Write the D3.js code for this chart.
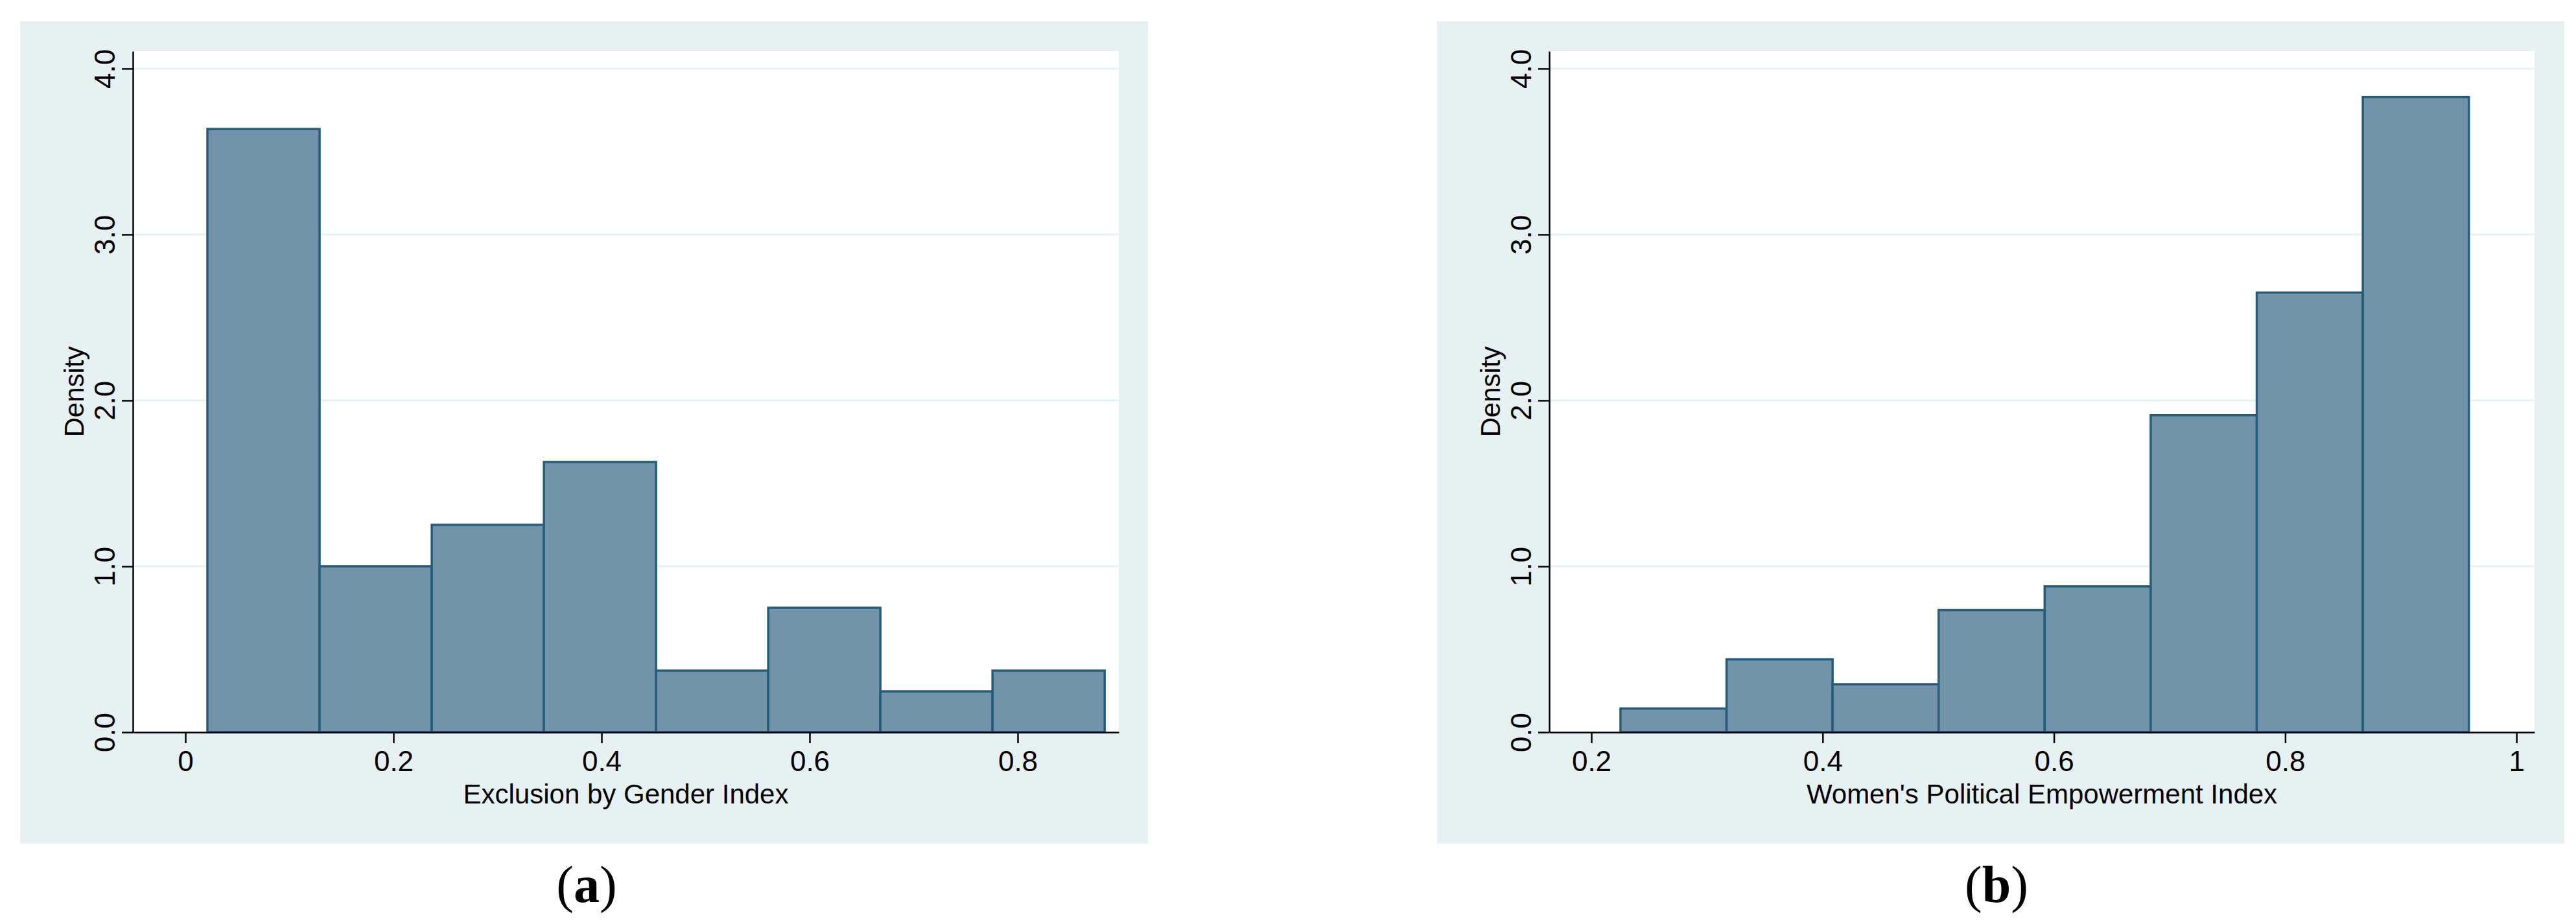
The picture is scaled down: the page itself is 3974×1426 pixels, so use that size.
<!DOCTYPE html>
<html><head><meta charset="utf-8">
<script src="https://cdn.jsdelivr.net/npm/d3@7"></script>
<style>body{margin:0;background:#fff}svg{display:block}</style>
</head><body><svg id="c" width="3974" height="1426"></svg>
<script>
// Panel (a): Exclusion by Gender Index
const aStart = 0.0212, aWidth = 0.1078;
const aDensity = [3.636, 1.0, 1.25, 1.629, 0.371, 0.75, 0.246, 0.371];
const aTicks = [0, 0.2, 0.4, 0.6, 0.8];
// Panel (b): Women's Political Empowerment Index
const bStart = 0.2252, bWidth = 0.0917;
const bDensity = [0.143, 0.439, 0.289, 0.736, 0.879, 1.911, 2.65, 3.829];
const bTicks = [0.2, 0.4, 0.6, 0.8, 1];
const yTicks = [0, 1, 2, 3, 4];

const svg = d3.select("#c");
const font = "'Liberation Sans', Arial, sans-serif";

function panel(o){
  const g = svg.append("g");
  g.append("rect").attr("x",o.bg[0]).attr("y",33).attr("width",o.bg[1]-o.bg[0]).attr("height",1269).attr("fill","#e7f1f2");
  g.append("rect").attr("x",o.px[0]).attr("y",79).attr("width",o.px[1]-o.px[0]).attr("height",1130-79).attr("fill","#fff");
  const x = d3.scaleLinear().domain(o.xdom).range(o.px);
  const y = d3.scaleLinear().domain([0,4.105]).range([1130,79]);
  // grid
  g.selectAll(".gr").data(yTicks.slice(1)).join("line")
    .attr("x1",o.px[0]).attr("x2",o.px[1]).attr("y1",d=>y(d)).attr("y2",d=>y(d))
    .attr("stroke","#eaf2f3").attr("stroke-width",3);
  // bars
  g.selectAll(".bar").data(o.dens).join("rect")
    .attr("x",(d,i)=>x(o.start+i*o.w)).attr("width",(d,i)=>x(o.start+(i+1)*o.w)-x(o.start+i*o.w))
    .attr("y",d=>y(d)).attr("height",d=>y(0)-y(d))
    .attr("fill","#7393ab").attr("stroke","#235d7a").attr("stroke-width",3.5);
  // axes
  const ax = g.append("g").attr("transform",`translate(0,${y(0)})`)
    .call(d3.axisBottom(x).tickValues(o.xticks).tickFormat(d=>String(d)).tickSize(17).tickPadding(12).tickSizeOuter(0));
  ax.select(".domain").attr("stroke","#000").attr("stroke-width",2.5);
  ax.selectAll(".tick line").attr("stroke-width",2.5);
  ax.selectAll("text").attr("font-family",font).attr("font-size",44).attr("fill","#000");
  const ay = g.append("g").attr("transform",`translate(${o.px[0]},0)`)
    .call(d3.axisLeft(y).tickValues(yTicks).tickSize(17).tickPadding(10).tickSizeOuter(0));
  ay.select(".domain").attr("stroke","#000").attr("stroke-width",2.5);
  ay.selectAll(".tick line").attr("stroke-width",2.5);
  ay.selectAll("text").attr("font-family",font).attr("font-size",44).attr("fill","#000")
    .attr("text-anchor","middle").attr("dy",0)
    .attr("transform",function(){return "translate(-14,0) rotate(-90)";})
    .attr("x",0).attr("y",-14);
  g.append("text").attr("transform",`translate(${o.px[0]-76},${(1130+79)/2}) rotate(-90)`)
    .attr("text-anchor","middle").attr("font-family",font).attr("font-size",42).text("Density");
  g.append("text").attr("x",(o.px[0]+o.px[1])/2).attr("y",1240).attr("text-anchor","middle")
    .attr("font-family",font).attr("font-size",42).text(o.title);
  const cap = g.append("text").attr("x",o.cap).attr("y",1392).attr("text-anchor","middle")
    .attr("font-family","'Liberation Serif','DejaVu Serif',serif").attr("font-size",80);
  cap.append("tspan").text("(");
  cap.append("tspan").attr("font-weight","bold").text(o.letter);
  cap.append("tspan").text(")");
}
panel({bg:[31,1771], px:[205,1726], xdom:[(205-286)/1605,(1726-286)/1605], start:aStart, w:aWidth, dens:aDensity,
  xticks:aTicks, title:"Exclusion by Gender Index", cap:905, letter:"a"});
panel({bg:[2217,3956], px:[2390,3910], xdom:[0.2+(2390-2455)/1784,0.2+(3910-2455)/1784], start:bStart, w:bWidth, dens:bDensity,
  xticks:bTicks, title:"Women's Political Empowerment Index", cap:3080, letter:"b"});
</script></body></html>
